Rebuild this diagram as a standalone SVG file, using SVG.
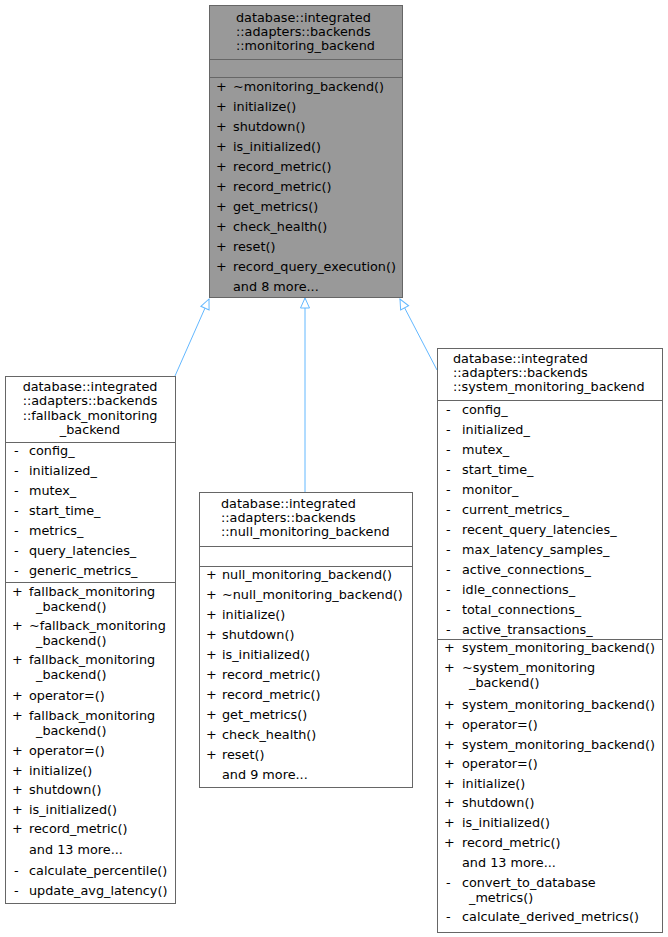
<svg xmlns="http://www.w3.org/2000/svg" width="668" height="937" viewBox="0 0 668 937">
<style>
text{font-family:"DejaVu Sans","Liberation Sans",sans-serif;font-size:12.8px;fill:#000}
.box{fill:#fff;stroke:#666;stroke-width:1}
.base{fill:#999;stroke:#666;stroke-width:1}
.sep{stroke:#666;stroke-width:1}
.edge{stroke:#63b8ff;stroke-width:1;fill:none}
.mid{text-anchor:middle}
</style>
<defs>
<marker id="tri" viewBox="0 0 12 12" refX="11" refY="6" markerWidth="12" markerHeight="12" markerUnits="userSpaceOnUse" orient="auto">
<path d="M1,1.5 L11,6 L1,10.5 Z" fill="#fff" stroke="#63b8ff" stroke-width="1"/>
</marker>
</defs>
<g id="connectors">
<path class="edge" d="M175,376 L209,299" marker-end="url(#tri)"/>
<path class="edge" d="M305,492 L305,298" marker-end="url(#tri)"/>
<path class="edge" d="M437,370 L400,299" marker-end="url(#tri)"/>
</g>
<g id="monitoring_backend">
<rect class="base" x="209.5" y="5.5" width="193" height="292"/>
<line class="sep" x1="209.5" y1="59.5" x2="402.5" y2="59.5"/>
<line class="sep" x1="209.5" y1="77.5" x2="402.5" y2="77.5"/>
<text x="236" y="22">database::integrated</text>
<text x="236" y="36">::adapters::backends</text>
<text x="236" y="50">::monitoring_backend</text>
<g>
<text x="216" y="91">+</text><text x="233" y="91">~monitoring_backend()</text>
<text x="216" y="111">+</text><text x="233" y="111">initialize()</text>
<text x="216" y="131">+</text><text x="233" y="131">shutdown()</text>
<text x="216" y="151">+</text><text x="233" y="151">is_initialized()</text>
<text x="216" y="171">+</text><text x="233" y="171">record_metric()</text>
<text x="216" y="191">+</text><text x="233" y="191">record_metric()</text>
<text x="216" y="211">+</text><text x="233" y="211">get_metrics()</text>
<text x="216" y="231">+</text><text x="233" y="231">check_health()</text>
<text x="216" y="251">+</text><text x="233" y="251">reset()</text>
<text x="216" y="271">+</text><text x="233" y="271">record_query_execution()</text>
<text x="233" y="291">and 8 more...</text>
</g>
</g>
<g id="fallback_monitoring_backend">
<rect class="box" x="5.5" y="376.5" width="170" height="527"/>
<line class="sep" x1="5.5" y1="442.5" x2="175.5" y2="442.5"/>
<line class="sep" x1="5.5" y1="582.5" x2="175.5" y2="582.5"/>
<text class="mid" x="90" y="391">database::integrated</text>
<text class="mid" x="90" y="405">::adapters::backends</text>
<text class="mid" x="90" y="420">::fallback_monitoring</text>
<text class="mid" x="90" y="434">_backend</text>
<text x="14" y="455">-</text><text x="29" y="455">config_</text>
<text x="14" y="475">-</text><text x="29" y="475">initialized_</text>
<text x="14" y="495">-</text><text x="29" y="495">mutex_</text>
<text x="14" y="515">-</text><text x="29" y="515">start_time_</text>
<text x="14" y="535">-</text><text x="29" y="535">metrics_</text>
<text x="14" y="555">-</text><text x="29" y="555">query_latencies_</text>
<text x="14" y="575">-</text><text x="29" y="575">generic_metrics_</text>
<text x="12" y="596">+</text><text x="29" y="596">fallback_monitoring</text>
<text x="36" y="611">_backend()</text>
<text x="12" y="630">+</text><text x="29" y="630">~fallback_monitoring</text>
<text x="36" y="645">_backend()</text>
<text x="12" y="664">+</text><text x="29" y="664">fallback_monitoring</text>
<text x="36" y="679">_backend()</text>
<text x="12" y="700">+</text><text x="29" y="700">operator=()</text>
<text x="12" y="720">+</text><text x="29" y="720">fallback_monitoring</text>
<text x="36" y="735">_backend()</text>
<text x="12" y="755">+</text><text x="29" y="755">operator=()</text>
<text x="12" y="775">+</text><text x="29" y="775">initialize()</text>
<text x="12" y="794">+</text><text x="29" y="794">shutdown()</text>
<text x="12" y="814">+</text><text x="29" y="814">is_initialized()</text>
<text x="12" y="833">+</text><text x="29" y="833">record_metric()</text>
<text x="29" y="854">and 13 more...</text>
<text x="14" y="875">-</text><text x="29" y="875">calculate_percentile()</text>
<text x="14" y="895">-</text><text x="29" y="895">update_avg_latency()</text>
</g>
<g id="null_monitoring_backend">
<rect class="box" x="199.5" y="492.5" width="213" height="295"/>
<line class="sep" x1="199.5" y1="546.5" x2="412.5" y2="546.5"/>
<line class="sep" x1="199.5" y1="566.5" x2="412.5" y2="566.5"/>
<text x="221" y="508">database::integrated</text>
<text x="221" y="522">::adapters::backends</text>
<text x="221" y="536">::null_monitoring_backend</text>
<text x="206" y="579">+</text><text x="222" y="579">null_monitoring_backend()</text>
<text x="206" y="599">+</text><text x="222" y="599">~null_monitoring_backend()</text>
<text x="206" y="619">+</text><text x="222" y="619">initialize()</text>
<text x="206" y="639">+</text><text x="222" y="639">shutdown()</text>
<text x="206" y="659">+</text><text x="222" y="659">is_initialized()</text>
<text x="206" y="679">+</text><text x="222" y="679">record_metric()</text>
<text x="206" y="699">+</text><text x="222" y="699">record_metric()</text>
<text x="206" y="719">+</text><text x="222" y="719">get_metrics()</text>
<text x="206" y="739">+</text><text x="222" y="739">check_health()</text>
<text x="206" y="759">+</text><text x="222" y="759">reset()</text>
<text x="222" y="779">and 9 more...</text>
</g>
<g id="system_monitoring_backend">
<rect class="box" x="437.5" y="348.5" width="225" height="584"/>
<line class="sep" x1="437.5" y1="400.5" x2="662.5" y2="400.5"/>
<line class="sep" x1="437.5" y1="639.5" x2="662.5" y2="639.5"/>
<text x="453" y="363">database::integrated</text>
<text x="453" y="377">::adapters::backends</text>
<text x="453" y="391">::system_monitoring_backend</text>
<text x="446" y="414">-</text><text x="462" y="414">config_</text>
<text x="446" y="434">-</text><text x="462" y="434">initialized_</text>
<text x="446" y="454">-</text><text x="462" y="454">mutex_</text>
<text x="446" y="474">-</text><text x="462" y="474">start_time_</text>
<text x="446" y="494">-</text><text x="462" y="494">monitor_</text>
<text x="446" y="514">-</text><text x="462" y="514">current_metrics_</text>
<text x="446" y="534">-</text><text x="462" y="534">recent_query_latencies_</text>
<text x="446" y="554">-</text><text x="462" y="554">max_latency_samples_</text>
<text x="446" y="574">-</text><text x="462" y="574">active_connections_</text>
<text x="446" y="594">-</text><text x="462" y="594">idle_connections_</text>
<text x="446" y="614">-</text><text x="462" y="614">total_connections_</text>
<text x="446" y="634">-</text><text x="462" y="634">active_transactions_</text>
<text x="444" y="652">+</text><text x="462" y="652">system_monitoring_backend()</text>
<text x="444" y="672">+</text><text x="462" y="672">~system_monitoring</text>
<text x="469" y="687">_backend()</text>
<text x="444" y="709">+</text><text x="462" y="709">system_monitoring_backend()</text>
<text x="444" y="729">+</text><text x="462" y="729">operator=()</text>
<text x="444" y="749">+</text><text x="462" y="749">system_monitoring_backend()</text>
<text x="444" y="768">+</text><text x="462" y="768">operator=()</text>
<text x="444" y="788">+</text><text x="462" y="788">initialize()</text>
<text x="444" y="807">+</text><text x="462" y="807">shutdown()</text>
<text x="444" y="827">+</text><text x="462" y="827">is_initialized()</text>
<text x="444" y="847">+</text><text x="462" y="847">record_metric()</text>
<text x="462" y="867">and 13 more...</text>
<text x="446" y="887">-</text><text x="462" y="887">convert_to_database</text>
<text x="469" y="902">_metrics()</text>
<text x="446" y="921">-</text><text x="462" y="921">calculate_derived_metrics()</text>
</g>
</svg>
